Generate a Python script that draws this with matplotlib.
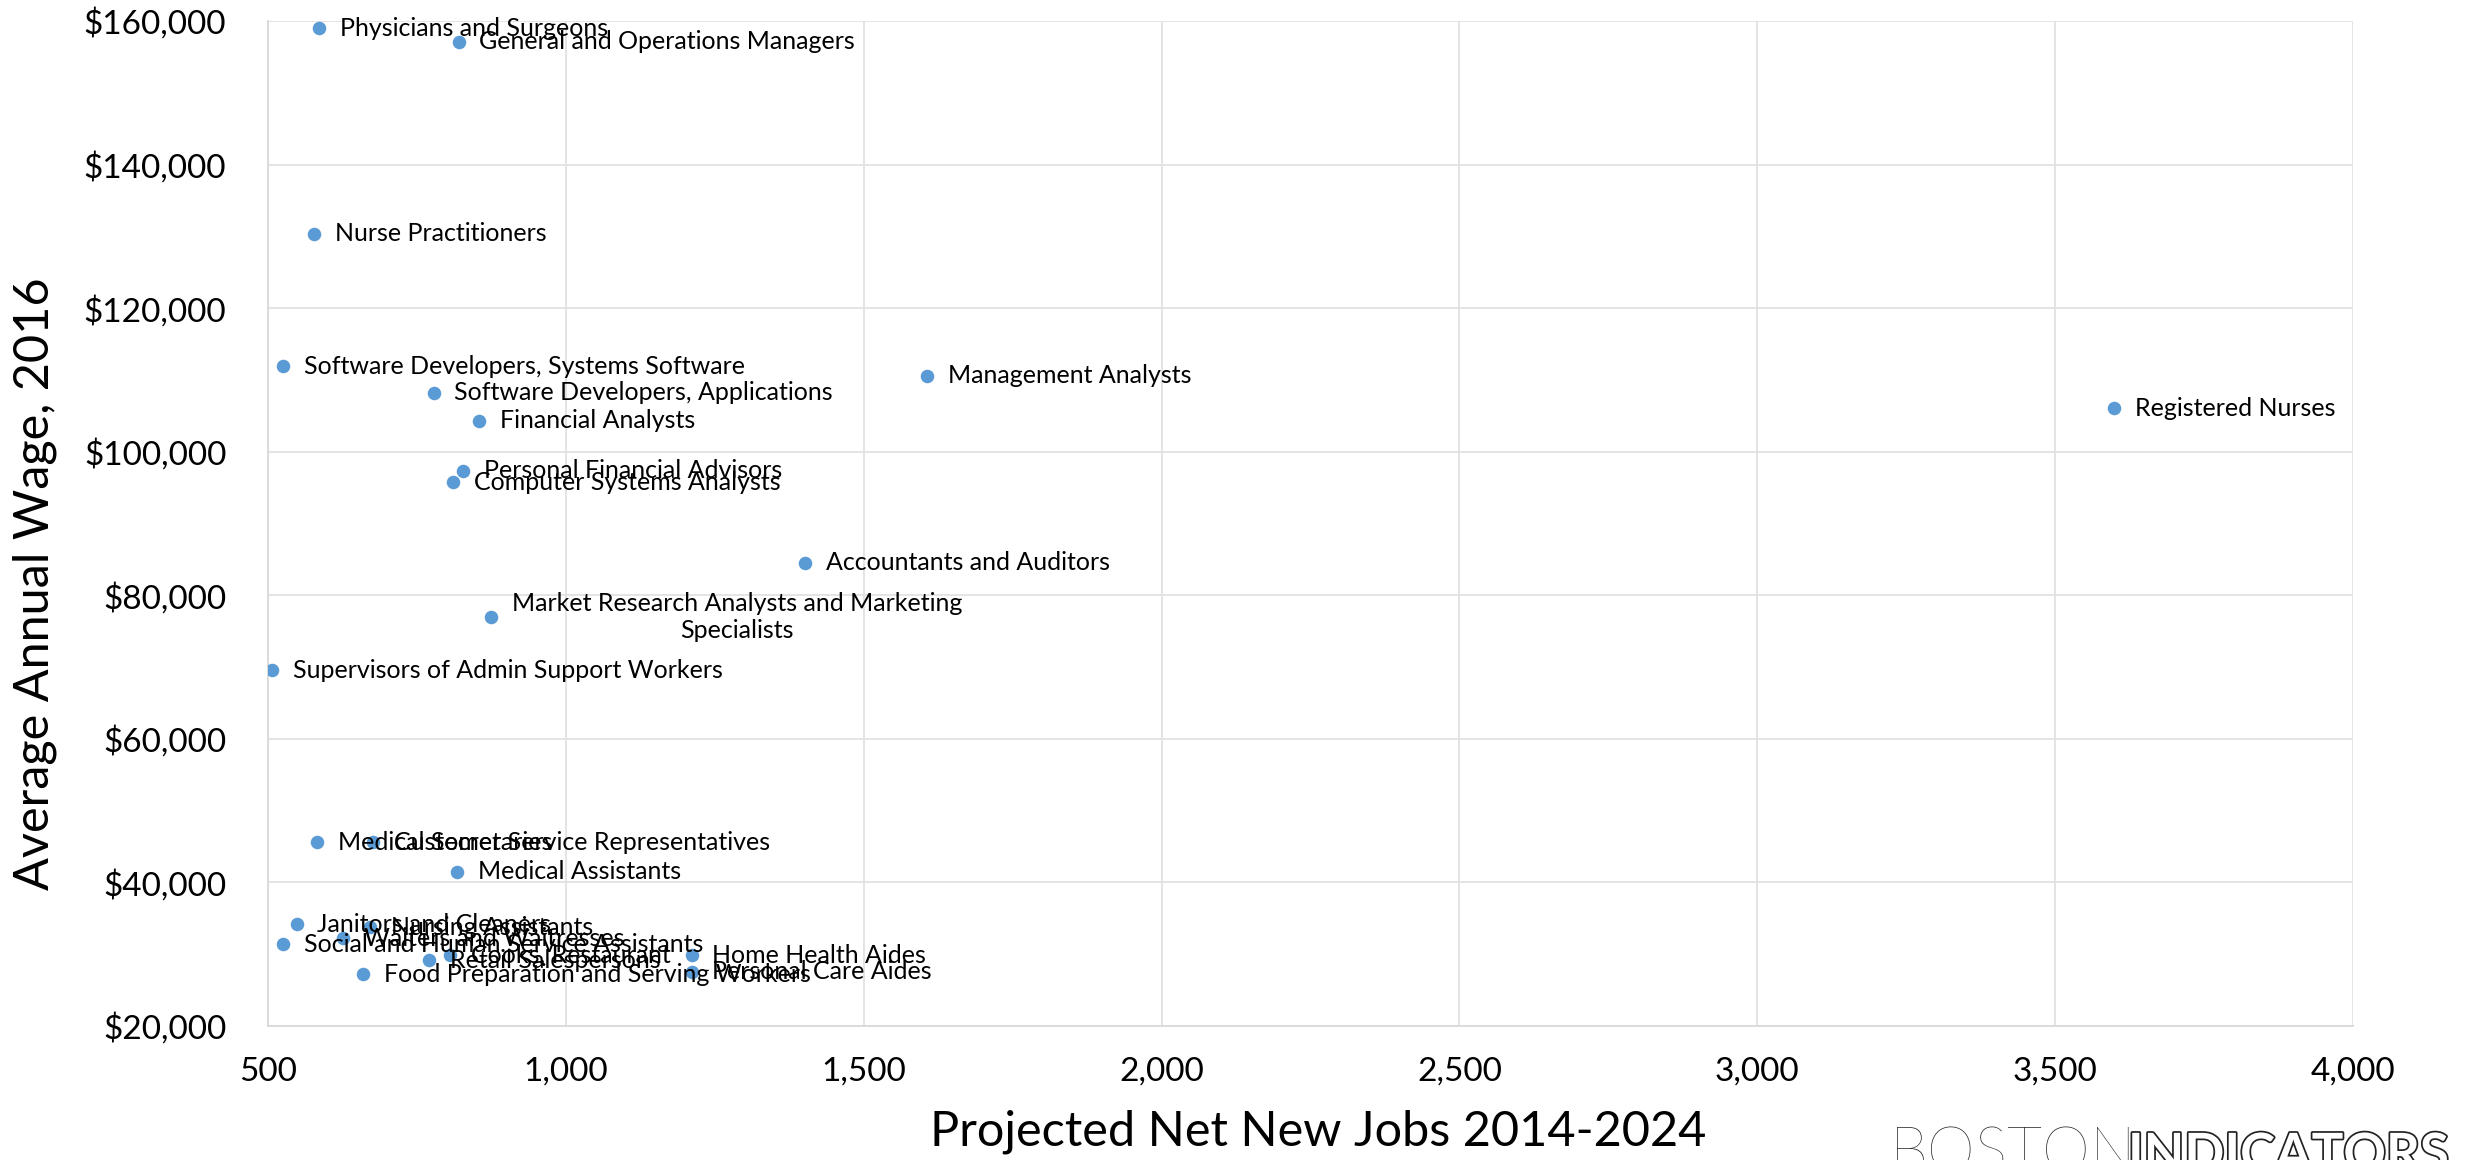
import matplotlib.pyplot as plt
import matplotlib.patheffects as pe
from matplotlib.ticker import FuncFormatter

# occupations, projected net new jobs 2014-2024, average annual wage 2016
occupations = [
    "Physicians and Surgeons",
    "General and Operations Managers",
    "Nurse Practitioners",
    "Software Developers, Systems Software",
    "Software Developers, Applications",
    "Financial Analysts",
    "Management Analysts",
    "Registered Nurses",
    "Personal Financial Advisors",
    "Computer Systems Analysts",
    "Accountants and Auditors",
    "Market Research Analysts and Marketing\nSpecialists",
    "Supervisors of Admin Support Workers",
    "Medical Secretaries",
    "Customer Service Representatives",
    "Medical Assistants",
    "Janitors and Cleaners",
    "Nursing Assistants",
    "Waiters and Waitresses",
    "Social and Human Service Assistants",
    "Cooks, Restaurant",
    "Retail Salespersons",
    "Home Health Aides",
    "Personal Care Aides",
    "Food Preparation and Serving Workers",
]
new_jobs = [586, 820, 578, 526, 778, 855, 1606, 3599, 828, 810, 1401, 874, 507,
            583, 677, 817, 548, 671, 626, 525, 805, 770, 1211, 1211, 660]
avg_wage = [158980, 157120, 130340, 111940, 108220, 104320, 110590, 106050,
            97360, 95740, 84540, 77020, 69590, 45580, 45580, 41490, 34170,
            33790, 32220, 31380, 29890, 29190, 29890, 27560, 27240]

x_ticks = [500, 1000, 1500, 2000, 2500, 3000, 3500, 4000]
y_ticks = [20000, 40000, 60000, 80000, 100000, 120000, 140000, 160000]

plt.rcParams['font.family'] = ['Lato', 'DejaVu Sans']

fig = plt.figure(figsize=(24.78, 11.6), dpi=100)
ax = fig.add_axes([268 / 2478, 1 - 1026 / 1160, 2085 / 2478, 1005 / 1160])

ax.scatter(new_jobs, avg_wage, s=95, color="#5B9BD5", zorder=3, linewidths=0)

# labels sit to the right of each point, overlaps kept as in the original
for name, x, y in zip(occupations, new_jobs, avg_wage):
    ax.annotate(name, (x, y), xytext=(15, 0), textcoords="offset points",
                ha="left", va="center", multialignment="center",
                fontsize=18, color="black", zorder=4)

ax.set_xlim(500, 4000)
ax.set_ylim(20000, 160000)
ax.set_xticks(x_ticks)
ax.set_yticks(y_ticks)
ax.xaxis.set_major_formatter(FuncFormatter(lambda v, p: f"{int(v):,}"))
ax.yaxis.set_major_formatter(FuncFormatter(lambda v, p: f"${int(v):,}"))
ax.tick_params(axis="both", length=0, labelsize=24)
ax.tick_params(axis="y", pad=30)
ax.tick_params(axis="x", pad=22)

ax.grid(True, color="#e2e2e2", linewidth=1.3)
ax.set_axisbelow(True)
for side in ["top", "right"]:
    ax.spines[side].set_visible(False)
for side in ["left", "bottom"]:
    ax.spines[side].set_color("#d9d9d9")
    ax.spines[side].set_linewidth(1.3)

fig.text(1318 / 2478, 1 - 1132 / 1160, "Projected Net New Jobs 2014-2024",
         ha="center", va="center", fontsize=35)
fig.text(35 / 2478, 1 - 584 / 1160, "Average Annual Wage, 2016",
         ha="center", va="center", rotation=90, fontsize=35)

# logo at the bottom right, cut off by the figure edge
fig.text(1890 / 2478, 1 - 1126 / 1160, "BOSTON", ha="left", va="top",
         fontsize=44, fontweight="light", color="#222222")
fig.text(2128 / 2478, 1 - 1131 / 1160, "INDICATORS", ha="left", va="top",
         fontsize=38, fontweight="bold", color="white",
         path_effects=[pe.Stroke(linewidth=2.5, foreground="#222222"), pe.Normal()])

fig.savefig("out.png", dpi=100)
